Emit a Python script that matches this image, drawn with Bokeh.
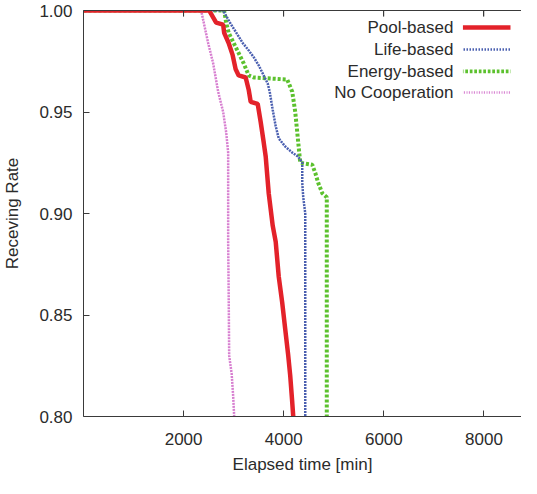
from bokeh.plotting import figure
from bokeh.models import (Range1d, FixedTicker, NumeralTickFormatter, LinearAxis,
                          Label, BoxAnnotation, ColumnDataSource)
from bokeh.embed import file_html
from bokeh.resources import INLINE

# ---- data ----
series_names = ["Pool-based", "Life-based", "Energy-based", "No Cooperation"]

pool_x = [0, 2510, 2650, 2790, 2810, 2900, 2980, 3040, 3100, 3240, 3300, 3340, 3480,
          3540, 3600, 3640, 3700, 3780, 3840, 3900, 3970, 4030, 4090, 4130, 4170, 4190]
pool_y = [1.0, 1.0, 0.994, 0.993, 0.989, 0.984, 0.978, 0.971, 0.968, 0.967, 0.961, 0.955, 0.954,
          0.945, 0.935, 0.928, 0.910, 0.894, 0.886, 0.869, 0.856, 0.843, 0.830, 0.820, 0.807, 0.800]

life_x = [0, 2790, 2950, 3080, 3180, 3280, 3400, 3500, 3600, 3680, 3720, 3780, 3840,
          3900, 4030, 4170, 4290, 4370, 4370, 4390, 4430, 4430]
life_y = [1.0, 1.0, 0.993, 0.988, 0.984, 0.981, 0.977, 0.973, 0.968, 0.964, 0.960, 0.951, 0.943,
          0.937, 0.933, 0.930, 0.928, 0.925, 0.915, 0.908, 0.900, 0.800]

energy_x = [0, 2810, 2850, 2900, 3000, 3100, 3200, 3300, 3400, 4070, 4170, 4230, 4290,
            4330, 4570, 4630, 4690, 4770, 4860, 4860]
energy_y = [1.0, 1.0, 0.994, 0.989, 0.984, 0.979, 0.974, 0.968, 0.967, 0.966, 0.960, 0.950, 0.935,
            0.925, 0.924, 0.920, 0.915, 0.910, 0.908, 0.800]

nocoop_x = [0, 2350, 2490, 2590, 2690, 2790, 2850, 2890, 2890, 2900, 2910, 2960, 2990, 3010]
nocoop_y = [1.0, 1.0, 0.984, 0.974, 0.960, 0.950, 0.940, 0.930, 0.886, 0.861, 0.830, 0.821, 0.810, 0.800]

x_ticks = [2000, 4000, 6000, 8000]
y_ticks = [0.80, 0.85, 0.90, 0.95, 1.00]

# ---- styles ----
FONT = "Liberation Sans"
TXT = "#2b2b2b"
AX = "#3a3a3a"
styles = [
    dict(color="#e3222a", width=4.5, dash="solid"),
    dict(color="#4a5fb0", width=2.5, dash="2 1"),
    dict(color="#5cc12e", width=4, dash="3 2"),
    dict(color="#d77fd0", width=2.5, dash="2 1"),
]

Y0, Y1 = 0.80, 1.00
p = figure(width=521, height=478, output_backend="svg", toolbar_location=None,
           x_range=Range1d(0, 8750), y_range=Range1d(Y0, Y1),
           min_border_left=78, min_border_right=0, min_border_top=10, min_border_bottom=62)
p.outline_line_color = None
p.grid.grid_line_color = None
p.background_fill_color = "white"
p.border_fill_color = "white"

for ax in (p.xaxis[0], p.yaxis[0]):
    ax.axis_line_color = AX
    ax.major_tick_line_color = AX
    ax.major_tick_in = 6
    ax.major_tick_out = 0
    ax.minor_tick_line_color = None
    ax.major_label_text_font = FONT
    ax.major_label_text_font_size = "17px"
    ax.major_label_text_color = TXT
    ax.axis_label_text_font = FONT
    ax.axis_label_text_font_size = "17px"
    ax.axis_label_text_font_style = "normal"
    ax.axis_label_text_color = TXT

p.xaxis[0].ticker = FixedTicker(ticks=x_ticks)
p.xaxis[0].formatter = NumeralTickFormatter(format="0")
p.xaxis[0].axis_label = "Elapsed time [min]"
p.xaxis[0].major_label_standoff = 16
p.xaxis[0].axis_label_standoff = 7

p.yaxis[0].ticker = FixedTicker(ticks=y_ticks)
p.yaxis[0].formatter = NumeralTickFormatter(format="0.00")
p.yaxis[0].axis_label = "Receving Rate"
p.yaxis[0].major_label_standoff = 11
p.yaxis[0].axis_label_standoff = 14

# top frame line (no labels)
top = LinearAxis(ticker=FixedTicker(ticks=x_ticks),
                 major_label_standoff=0, major_tick_in=6, major_tick_out=0,
                 major_label_text_color=None, major_tick_line_color=AX,
                 minor_tick_line_color=None, axis_line_color=AX)
p.add_layout(top, "above")

# inward tick marks hanging from the top frame line (6 px of a 406 px frame)
tick_len = (Y1 - Y0) * 6 / 406
for t in x_ticks:
    p.add_layout(BoxAnnotation(left=t, right=t, top=Y1, bottom=Y1 - tick_len,
                               fill_alpha=0, line_color=AX, line_width=1))

xs = [pool_x, life_x, energy_x, nocoop_x]
ys = [pool_y, life_y, energy_y, nocoop_y]
# draw in reverse so Pool-based is on top
for i in [3, 2, 1, 0]:
    st = styles[i]
    src = ColumnDataSource(dict(x=xs[i], y=ys[i]))
    p.line("x", "y", source=src, line_color=st["color"], line_width=st["width"],
           line_dash=st["dash"])

# ---- legend (text right-aligned, sample on the right) ----
leg_text_x = 7390
leg_s0, leg_s1 = 7580, 8530
row_y = [0.9916, 0.9808, 0.9700, 0.9596]
hatch = [None, (3, 2), (4.5, 3), (2.5, 1.5)]
heights = [0.0022, 0.0012, 0.0019, 0.0012]
for i, name in enumerate(series_names):
    p.add_layout(Label(x=leg_text_x, y=row_y[i], text=name, text_align="right",
                       text_baseline="middle", text_font=FONT, text_font_size="17px",
                       text_color=TXT))
    st = styles[i]
    if hatch[i] is None:
        box = BoxAnnotation(left=leg_s0, right=leg_s1, bottom=row_y[i] - heights[i] / 2,
                            top=row_y[i] + heights[i] / 2, fill_color=st["color"],
                            fill_alpha=1, line_color=None)
    else:
        box = BoxAnnotation(left=leg_s0, right=leg_s1, bottom=row_y[i] - heights[i] / 2,
                            top=row_y[i] + heights[i] / 2, fill_alpha=0, line_color=None,
                            hatch_pattern="|", hatch_color=st["color"],
                            hatch_scale=hatch[i][0], hatch_weight=hatch[i][1])
    p.add_layout(box)

open("out.html", "w").write(file_html(p, INLINE))
